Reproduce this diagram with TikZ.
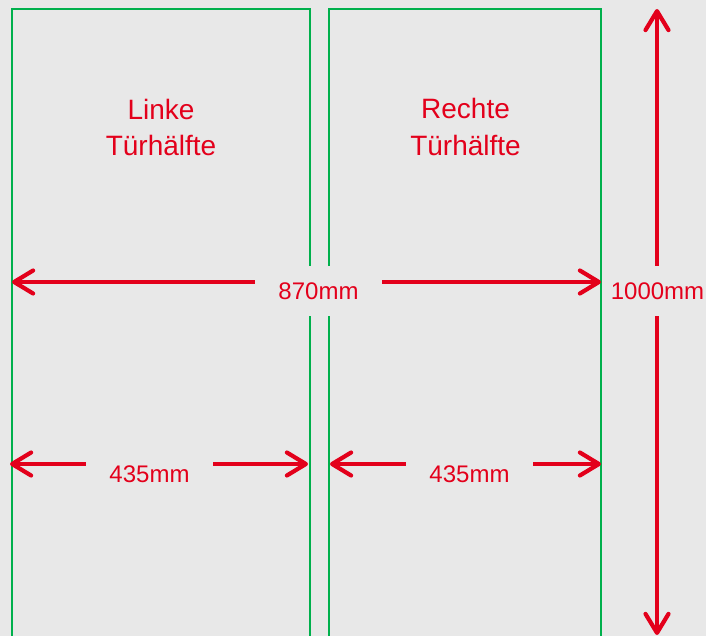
\documentclass[tikz,border=0pt]{standalone}
\usepackage{fontspec}
\setmainfont{Liberation Sans}
\usetikzlibrary{arrows.meta}
\definecolor{bg}{HTML}{E8E8E8}
\definecolor{dred}{HTML}{E3001B}
\definecolor{dgreen}{HTML}{00B04C}
\begin{document}
\begin{tikzpicture}[x=1pt,y=-1pt,
  frame/.style={draw=dgreen, line width=2.4pt},
  barb/.tip={Straight Barb[length=19pt,width=23pt,round]},
  dim/.style={draw=dred, line width=4.2pt, barb-barb},
  title/.style={text=dred, align=center, inner sep=0pt, anchor=south, font=\fontsize{28}{36.5}\selectfont},
  dimlabel/.style={fill=bg, text=dred, inner ysep=0pt, minimum height=50pt, font=\fontsize{24}{28}\selectfont}]
\fill[bg] (0,0) rectangle (706,636);
\useasboundingbox (0,0) rectangle (706,636);
% door halves
\coordinate (L1) at (12,640);
\coordinate (L2) at (12,9);
\coordinate (L3) at (310,9);
\coordinate (L4) at (310,640);
\coordinate (R1) at (329,640);
\coordinate (R2) at (329,9);
\coordinate (R3) at (601,9);
\coordinate (R4) at (601,640);
\draw[frame] (L1) -- (L2) -- (L3) -- (L4);
\draw[frame] (R1) -- (R2) -- (R3) -- (R4);
% titles
\node[title] (tl) at (161,156) {Linke\\Türhälfte};
\node[title] (tr) at (465.5,155.5) {Rechte\\Türhälfte};
% dimension arrows
\coordinate (a1) at (12,282);
\coordinate (a2) at (601,282);
\draw[dim] (a1) -- (a2);
\coordinate (v1) at (657,9);
\coordinate (v2) at (657,635);
\draw[dim] (v1) -- (v2);
\coordinate (b1) at (10,464);
\coordinate (b2) at (308,464);
\draw[dim] (b1) -- (b2);
\coordinate (c1) at (330,464);
\coordinate (c2) at (601,464);
\draw[dim] (c1) -- (c2);
% labels
\node[dimlabel, inner xsep=23pt] (l870) at (318.5,291) {870mm};
\node[dimlabel, inner xsep=0pt] (l1000) at (657.5,291) {1000mm};
\node[dimlabel, inner xsep=23pt] (l435a) at (149.5,474.5) {435mm};
\node[dimlabel, inner xsep=23pt] (l435b) at (469.5,474.5) {435mm};
\end{tikzpicture}
\end{document}
